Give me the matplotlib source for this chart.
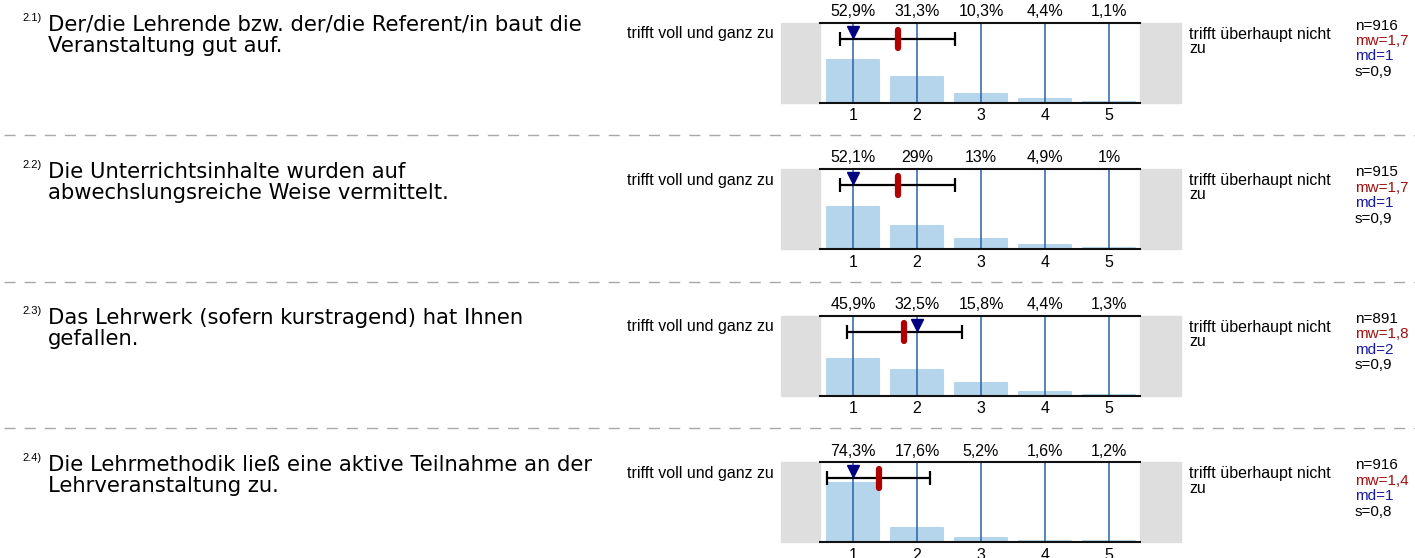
import matplotlib
matplotlib.use("Agg")
import matplotlib.pyplot as plt
from matplotlib.lines import Line2D
from matplotlib.patches import Rectangle

plt.rcParams['font.family'] = ['Liberation Sans', 'DejaVu Sans']

W, H = 1415, 558

# data
numbers = ["2.1)", "2.2)", "2.3)", "2.4)"]
questions = [
    "Der/die Lehrende bzw. der/die Referent/in baut die\nVeranstaltung gut auf.",
    "Die Unterrichtsinhalte wurden auf\nabwechslungsreiche Weise vermittelt.",
    "Das Lehrwerk (sofern kurstragend) hat Ihnen\ngefallen.",
    "Die Lehrmethodik ließ eine aktive Teilnahme an der\nLehrveranstaltung zu.",
]
scale = [1, 2, 3, 4, 5]
pct_q1 = [52.9, 31.3, 10.3, 4.4, 1.1]
pct_q2 = [52.1, 29.0, 13.0, 4.9, 1.0]
pct_q3 = [45.9, 32.5, 15.8, 4.4, 1.3]
pct_q4 = [74.3, 17.6, 5.2, 1.6, 1.2]
pct_labels_q1 = ["52,9%", "31,3%", "10,3%", "4,4%", "1,1%"]
pct_labels_q2 = ["52,1%", "29%", "13%", "4,9%", "1%"]
pct_labels_q3 = ["45,9%", "32,5%", "15,8%", "4,4%", "1,3%"]
pct_labels_q4 = ["74,3%", "17,6%", "5,2%", "1,6%", "1,2%"]
n_vals = [916, 915, 891, 916]
mw_vals = [1.7, 1.7, 1.8, 1.4]
md_vals = [1, 1, 2, 1]
s_vals = [0.9, 0.9, 0.9, 0.8]
left_label = "trifft voll und ganz zu"
right_label = "trifft überhaupt nicht\nzu"

pcts = [pct_q1, pct_q2, pct_q3, pct_q4]
pct_labels = [pct_labels_q1, pct_labels_q2, pct_labels_q3, pct_labels_q4]

fig = plt.figure(figsize=(W / 100, H / 100), dpi=100)


def fx(x):
    return x / W


def fy(y):
    return 1 - y / H


def de(v):
    return str(v).replace('.', ',')


bar_col = '#b4d5ec'
line_col = '#2a62a8'
red = '#b00000'
navy = '#000080'

row_h = 146.6
for i in range(4):
    top = 22.5 + i * row_h
    ax = fig.add_axes([fx(820), fy(top + 80), 320 / W, 80 / H])
    ax.set_xlim(0.484, 5.484)
    ax.set_ylim(0, 100)
    ax.bar(scale, pcts[i], width=0.8, color=bar_col, edgecolor=bar_col,
           linewidth=1.5, joinstyle='round', zorder=1)
    for x in scale:
        ax.axvline(x, color=line_col, lw=1.1, zorder=2)
    # std deviation bar
    ax.errorbar(mw_vals[i], 80, xerr=s_vals[i], fmt='none', ecolor='black',
                elinewidth=1.6, capsize=5, capthick=1.6, zorder=3)
    # median
    ax.plot(md_vals[i], 88.5, marker='v', color=navy, markersize=9,
            linestyle='none', zorder=4)
    # mean
    ax.plot([mw_vals[i], mw_vals[i]], [68, 91], color=red, lw=4.5,
            solid_capstyle='round', zorder=5)
    for x, lab in zip(scale, pct_labels[i]):
        ax.annotate(lab, (x, 100), xytext=(0, 8), textcoords='offset points',
                    ha='center', va='center', fontsize=11.5)
    for side in ['left', 'right']:
        ax.spines[side].set_visible(False)
    for side in ['top', 'bottom']:
        ax.spines[side].set_linewidth(1.5)
        ax.spines[side].set_color('#111111')
    ax.set_xticks(scale)
    ax.set_xticklabels([str(s) for s in scale], fontsize=11.5)
    ax.tick_params(axis='x', length=0, pad=4)
    ax.set_yticks([])
    ax.set_facecolor('white')

    ax.add_patch(Rectangle((-39 / 320, 0), 39 / 320, 1, transform=ax.transAxes,
                           color='#dedede', clip_on=False, zorder=0))
    ax.add_patch(Rectangle((1, 0), 41 / 320, 1, transform=ax.transAxes,
                           color='#dedede', clip_on=False, zorder=0))

    fig.text(fx(22), fy(top - 4.5), numbers[i], fontsize=8, va='center', ha='left')
    for k, line in enumerate(questions[i].split('\n')):
        fig.text(fx(48), fy(top + 8.5 + k * 21), line, fontsize=15.2,
                 family='DejaVu Sans', va='baseline', ha='left')
    fig.text(fx(627), fy(top + 11), left_label, fontsize=11.5, va='center', ha='left')
    fig.text(fx(1189), fy(top + 4), right_label, fontsize=11.5, va='top',
             ha='left', linespacing=0.95)
    stats = [("n=%d" % n_vals[i], 'black'),
             ("mw=" + de(mw_vals[i]), '#a01010'),
             ("md=" + de(md_vals[i]), '#1a1aa0'),
             ("s=" + de(s_vals[i]), 'black')]
    for k, (txt, col) in enumerate(stats):
        fig.text(fx(1355), fy(top + 3 + k * 15.5), txt, fontsize=11,
                 color=col, va='center', ha='left')

    if i < 3:
        y = fy(top + 112.5)
        ln = Line2D([fx(4), 1], [y, y], transform=fig.transFigure,
                    color='#a8a8a8', lw=1.0, dashes=(8, 6.5))
        fig.add_artist(ln)

fig.savefig("out.png", dpi=100)
